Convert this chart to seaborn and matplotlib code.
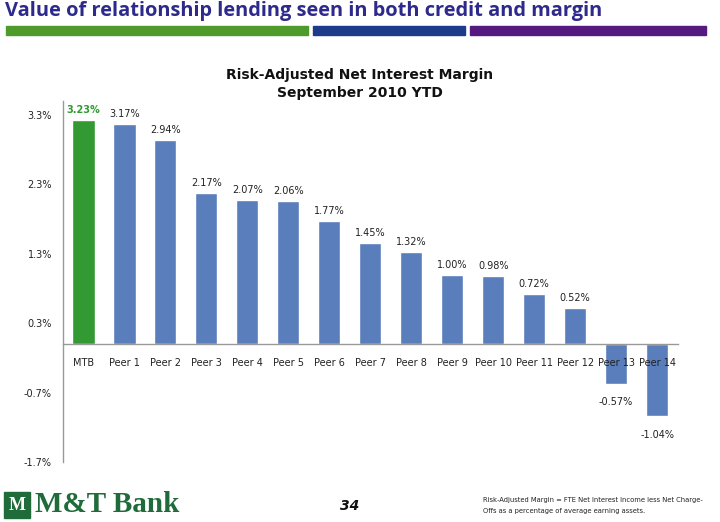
import matplotlib
matplotlib.use("Agg")
import matplotlib.pyplot as plt
import matplotlib.patches as mpatches
import seaborn as sns
import pandas as pd

categories = ["MTB", "Peer 1", "Peer 2", "Peer 3", "Peer 4", "Peer 5", "Peer 6", "Peer 7",
              "Peer 8", "Peer 9", "Peer 10", "Peer 11", "Peer 12", "Peer 13", "Peer 14"]
values = [3.23, 3.17, 2.94, 2.17, 2.07, 2.06, 1.77, 1.45, 1.32, 1.00, 0.98, 0.72, 0.52, -0.57, -1.04]
yticks = [-1.7, -0.7, 0.3, 1.3, 2.3, 3.3]

GREEN = "#339933"
BLUE = "#5A7DBB"
colors = [GREEN] + [BLUE] * (len(categories) - 1)

sns.set_theme(style="white")
plt.rcParams['font.family'] = ['DejaVu Sans']

fig = plt.figure(figsize=(7.2, 5.22), dpi=100)
ax = fig.add_axes([63/720, 1 - 462/522, (677.5 - 63)/720, (462 - 101)/522])

df = pd.DataFrame({"cat": categories, "val": values})
sns.barplot(data=df, x="cat", y="val", hue="cat", palette=colors, legend=False,
            width=0.54, ax=ax, saturation=1)

ax.set_ylim(-1.7, 3.5)
ax.set_xlim(-0.5, len(categories) - 0.5)
ax.set_yticks(yticks)
ax.set_yticklabels([f"{t:.1f}%" for t in yticks], fontsize=7, color="#222222")
ax.tick_params(axis="y", length=0, pad=8)
ax.set_xlabel("")
ax.set_ylabel("")

for s in ["top", "right"]:
    ax.spines[s].set_visible(False)
ax.spines["left"].set_color("#999999")
ax.spines["left"].set_linewidth(1.0)
ax.spines["bottom"].set_position(("data", 0))
ax.spines["bottom"].set_color("#999999")
ax.spines["bottom"].set_linewidth(1.0)
ax.tick_params(axis="x", length=0, pad=10, labelsize=7, colors="#222222")
ax.set_xticks(range(len(categories)))
ax.set_xticklabels(categories)
ax.set_axisbelow(False)

for i, v in enumerate(values):
    txt = f"{v:.2f}%"
    if i == 0:
        ax.text(i, v + 0.07, txt, ha="center", va="bottom", fontsize=7, color=GREEN, fontweight="bold")
    elif v >= 0:
        ax.text(i, v + 0.07, txt, ha="center", va="bottom", fontsize=7, color="#222222")
    else:
        ax.text(i, v - 0.2, txt, ha="center", va="top", fontsize=7, color="#222222")

# Chart title
fig.text(360/720, 1 - 75/522, "Risk-Adjusted Net Interest Margin", ha="center", va="center",
         fontsize=10, fontweight="bold", color="#111111")
fig.text(360/720, 1 - 93/522, "September 2010 YTD", ha="center", va="center",
         fontsize=10, fontweight="bold", color="#111111")

# Slide header
fig.text(5/720, 1 - 11/522, "Value of relationship lending seen in both credit and margin",
         ha="left", va="center", fontsize=14.4, fontweight="bold", color="#2E2A8C",
         family=["Open Sans", "DejaVu Sans"])
for x0, x1, c in [(6, 308, "#4E9A2A"), (313, 465, "#1E3A8A"), (470, 706, "#551A80")]:
    fig.patches.append(mpatches.Rectangle((x0/720, 1 - 35/522), (x1 - x0)/720, 9/522,
                                          transform=fig.transFigure, color=c, zorder=5))

# Logo
LOGO = "#1F6B3A"
fig.patches.append(mpatches.Rectangle((4/720, 1 - 518/522), 26/720, 26/522,
                                      transform=fig.transFigure, color=LOGO))
fig.text(17/720, 1 - 505/522, "M", ha="center", va="center", fontsize=13, fontweight="bold",
         color="white", family=["Liberation Serif"])
fig.text(35/720, 1 - 505/522, "M&T Bank", ha="left", va="center", fontsize=21, fontweight="bold",
         color=LOGO, family=["Liberation Serif"])

# Page number
fig.text(350/720, 1 - 506/522, "34", ha="center", va="center", fontsize=10, fontweight="bold",
         style="italic", color="#111111")

# Footnote
fig.text(483/720, 1 - 500/522, "Risk-Adjusted Margin = FTE Net Interest Income less Net Charge-",
         ha="left", va="center", fontsize=4.9, color="#222222")
fig.text(483/720, 1 - 511/522, "Offs as a percentage of average earning assets.",
         ha="left", va="center", fontsize=4.9, color="#222222")

fig.savefig("out.png", dpi=100)
